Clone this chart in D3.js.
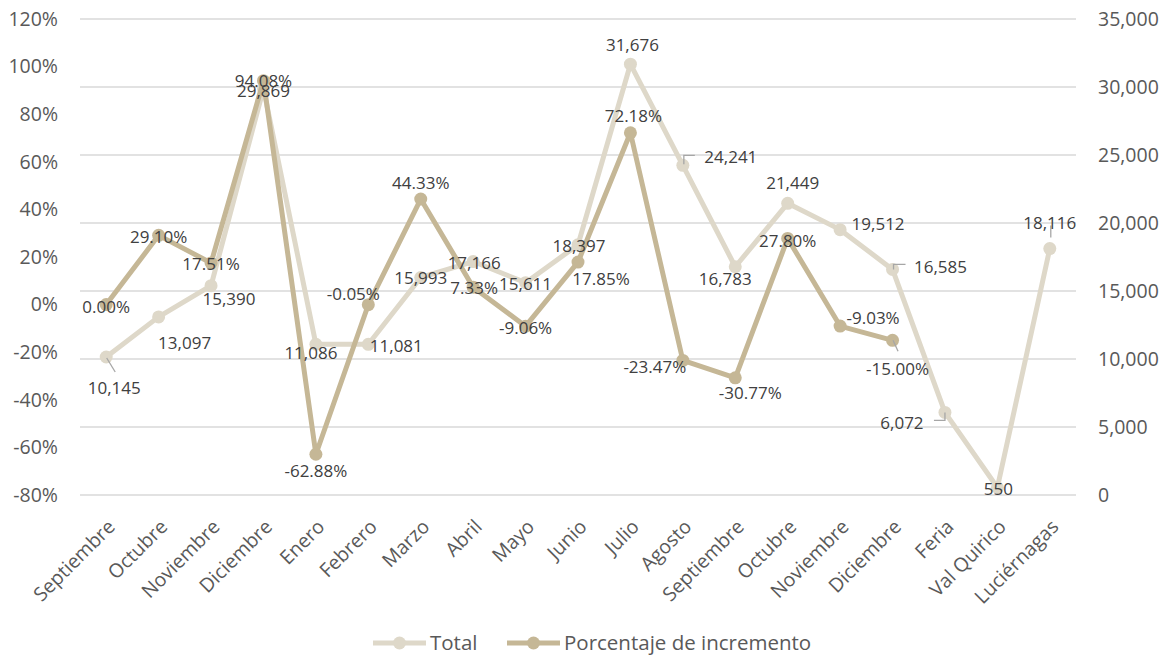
<!DOCTYPE html>
<html>
<head>
<meta charset="utf-8">
<script src="https://cdn.jsdelivr.net/npm/d3@7"></script>
<style>
  html, body { margin: 0; padding: 0; background: #fff; }
  svg { display: block; font-family: "Open Sans", "Noto Sans", sans-serif; }
</style>
</head>
<body>
<svg id="chart" width="1164" height="655"></svg>
<script>
// Visitors per period and month-over-month growth
const categories = ["Septiembre", "Octubre", "Noviembre", "Diciembre", "Enero", "Febrero",
  "Marzo", "Abril", "Mayo", "Junio", "Julio", "Agosto", "Septiembre", "Octubre",
  "Noviembre", "Diciembre", "Feria", "Val Quirico", "Luciérnagas"];

const totalValues = [10145, 13097, 15390, 29869, 11086, 11081, 15993, 17166, 15611, 18397,
  31676, 24241, 16783, 21449, 19512, 16585, 6072, 550, 18116];

// Percentage growth (fraction); no value for the last three periods
const pctValues = [0.0000, 0.2910, 0.1751, 0.9408, -0.6288, -0.0005, 0.4433, 0.0733, -0.0906,
  0.1785, 0.7218, -0.2347, -0.3077, 0.2780, -0.0903, -0.1500, null, null, null];

const rightTicks = [0, 5000, 10000, 15000, 20000, 25000, 30000, 35000];
const leftTicks = [-0.8, -0.6, -0.4, -0.2, 0, 0.2, 0.4, 0.6, 0.8, 1.0, 1.2];

const seriesNames = ["Total", "Porcentaje de incremento"];

// Label placement (offset of label centre from its point, px)
const totalLabelOffsets = [[8, 31], [26, 26], [18, 13], [0, 2], [-5, 9], [28, 2], [0, 0], [1, 1],
  [0, 1], [1, 1], [2, -19], [48, -8], [-10, 12], [5, -20], [38, -6], [48, -3], [-43, 10], [1, 1], [0, -26]];
const pctLabelOffsets = [[0, 2], [0, 2], [0, 1], [0, 0], [0, 17], [-15, -11], [0, -16], [1, 1],
  [0, 2], [23, 17], [3, -17], [-28, 6], [15, 15], [0, 2], [33, -8], [5, 29]];

// Leader lines for displaced labels, as offsets from the point
const totalLeaders = {
  0: [[0.5, 1], [9, 15]],
  11: [[1, -1], [1, -10], [12, -10]],
  15: [[1, 0], [1, -5], [13, -5]],
  16: [[0, 0], [0, 8], [-11, 8]],
  18: [[1, -11], [1, -23]]
};
const pctLeaders = {
  15: [[0.5, 0], [5.5, 11]]
};

const colors = { total: "#ded8c9", pct: "#c5b796", grid: "#d9d9d9", axisText: "#595959", label: "#404040" };

const svg = d3.select("#chart");
const margin = { left: 80, right: 1076, top: 19, bottom: 495 };

const x = d3.scaleBand().domain(d3.range(categories.length)).range([margin.left, margin.right]).padding(0);
const cx = i => x(i) + x.bandwidth() / 2;
const yR = d3.scaleLinear().domain([0, 35000]).range([margin.bottom, margin.top]);
const yL = d3.scaleLinear().domain([-0.8, 1.2]).range([margin.bottom, margin.top]);

const axisFont = "19.5px";

// Gridlines (right axis ticks)
svg.append("g").selectAll("line").data(rightTicks).join("line")
  .attr("x1", margin.left).attr("x2", margin.right)
  .attr("y1", d => yR(d)).attr("y2", d => yR(d))
  .attr("stroke", colors.grid).attr("stroke-width", 1.5);

// Left axis
const leftAxis = svg.append("g")
  .attr("transform", `translate(${margin.left - 22},0)`)
  .call(d3.axisLeft(yL).tickValues(leftTicks).tickSize(0).tickPadding(0)
    .tickFormat(d => Math.round(d * 100) + "%"));
leftAxis.select(".domain").remove();
leftAxis.selectAll("text").attr("fill", colors.axisText).style("font-size", axisFont)
  .style("font-family", "'Open Sans', sans-serif");

// Right axis
const rightAxis = svg.append("g")
  .attr("transform", `translate(${margin.right + 22},0)`)
  .call(d3.axisRight(yR).tickValues(rightTicks).tickSize(0).tickPadding(0)
    .tickFormat(d3.format(",")));
rightAxis.select(".domain").remove();
rightAxis.selectAll("text").attr("fill", colors.axisText).style("font-size", axisFont)
  .style("font-family", "'Open Sans', sans-serif");

// Category labels, rotated
svg.append("g").selectAll("text").data(categories).join("text")
  .attr("transform", (d, i) => `translate(${cx(i) + 10},${margin.bottom + 33}) rotate(-45)`)
  .attr("text-anchor", "end")
  .attr("fill", colors.axisText)
  .style("font-size", axisFont)
  .text(d => d);

// Lines
const lineTotal = d3.line().x((d, i) => cx(i)).y(d => yR(d));
const linePct = d3.line().defined(d => d !== null).x((d, i) => cx(i)).y(d => yL(d));

svg.append("path").datum(totalValues).attr("d", lineTotal)
  .attr("fill", "none").attr("stroke", colors.total).attr("stroke-width", 5)
  .attr("stroke-linejoin", "round").attr("stroke-linecap", "round");
svg.append("g").selectAll("circle").data(totalValues).join("circle")
  .attr("cx", (d, i) => cx(i)).attr("cy", d => yR(d)).attr("r", 6.5)
  .attr("fill", colors.total);

svg.append("path").datum(pctValues).attr("d", linePct)
  .attr("fill", "none").attr("stroke", colors.pct).attr("stroke-width", 5)
  .attr("stroke-linejoin", "round").attr("stroke-linecap", "round");
svg.append("g").selectAll("circle").data(pctValues.map((v, i) => ({ v, i })).filter(d => d.v !== null)).join("circle")
  .attr("cx", d => cx(d.i)).attr("cy", d => yL(d.v)).attr("r", 6.5)
  .attr("fill", colors.pct);

// Leader lines
function drawLeaders(leaders, px, py) {
  Object.entries(leaders).forEach(([k, pts]) => {
    const i = +k;
    svg.append("path")
      .attr("d", d3.line()(pts.map(p => [px(i) + p[0], py(i) + p[1]])))
      .attr("fill", "none").attr("stroke", "#a6a6a6").attr("stroke-width", 1.3);
  });
}
drawLeaders(totalLeaders, cx, i => yR(totalValues[i]));
drawLeaders(pctLeaders, cx, i => yL(pctValues[i]));

// Data labels
const fmtTotal = d3.format(",");
const fmtPct = v => (v * 100).toFixed(2) + "%";

svg.append("g").selectAll("text").data(totalValues).join("text")
  .attr("x", (d, i) => cx(i) + totalLabelOffsets[i][0])
  .attr("y", (d, i) => yR(d) + totalLabelOffsets[i][1])
  .attr("dy", "0.36em").attr("text-anchor", "middle")
  .attr("fill", colors.label).style("font-size", "17px")
  .text(d => fmtTotal(d));

svg.append("g").selectAll("text").data(pctValues.map((v, i) => ({ v, i })).filter(d => d.v !== null)).join("text")
  .attr("x", d => cx(d.i) + pctLabelOffsets[d.i][0])
  .attr("y", d => yL(d.v) + pctLabelOffsets[d.i][1])
  .attr("dy", "0.36em").attr("text-anchor", "middle")
  .attr("fill", colors.label).style("font-size", "17px")
  .text(d => fmtPct(d.v));

// Legend
const legend = svg.append("g").attr("transform", "translate(0,643)");
const legendItems = [
  { name: seriesNames[0], color: colors.total, x0: 373 },
  { name: seriesNames[1], color: colors.pct, x0: 507 }
];
legendItems.forEach(it => {
  legend.append("line").attr("x1", it.x0).attr("x2", it.x0 + 53).attr("y1", 0).attr("y2", 0)
    .attr("stroke", it.color).attr("stroke-width", 5);
  legend.append("circle").attr("cx", it.x0 + 26.5).attr("cy", 0).attr("r", 6.5).attr("fill", it.color);
  legend.append("text").attr("x", it.x0 + 57).attr("y", 0).attr("dy", "0.36em")
    .attr("fill", colors.axisText).style("font-size", "20.5px").text(it.name);
});
</script>
</body>
</html>
